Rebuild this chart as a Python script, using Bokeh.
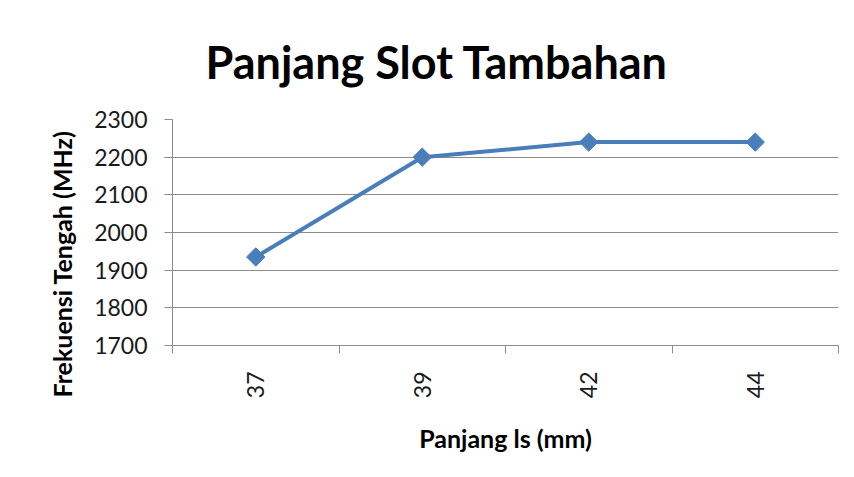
import math
from bokeh.plotting import figure
from bokeh.models import FixedTicker, Range1d, Title
from bokeh.embed import file_html
from bokeh.resources import INLINE

# data
categories = ["37", "39", "42", "44"]
frekuensi = [1935, 2200, 2240, 2240]
y_ticks = [1700, 1800, 1900, 2000, 2100, 2200, 2300]

x_pos = [i + 0.5 for i in range(len(categories))]
FONT = "Lato"
GRID = "#8c8c8c"
BLUE = "#4A7EBB"
W, H = 846, 469

p = figure(width=W, height=H, output_backend="svg", toolbar_location=None,
           x_range=Range1d(0, len(categories)), y_range=Range1d(y_ticks[0], y_ticks[-1]),
           min_border_left=172, min_border_right=8, min_border_top=119, min_border_bottom=124)
p.outline_line_color = None
p.background_fill_color = "white"
p.border_fill_color = "white"

p.add_layout(Title(text="Panjang Slot Tambahan", text_font=FONT, text_font_size="45px",
                   text_font_style="bold", text_color="black", align="left",
                   offset=33, standoff=61), "above")

# y axis title (placed as a side title so it can be shifted like the original)
p.add_layout(Title(text="Frekuensi Tengah (MHz)", text_font=FONT, text_font_size="25px",
                   text_font_style="bold", text_color="black", align="left",
                   offset=-52, standoff=29), "left")

# x axis
xax = p.xaxis[0]
xax.ticker = FixedTicker(ticks=x_pos, minor_ticks=list(range(len(categories) + 1)))
xax.major_label_overrides = {x: c for x, c in zip(x_pos, categories)}
xax.major_label_orientation = math.pi / 2
xax.major_tick_line_color = None
xax.minor_tick_line_color = GRID
xax.minor_tick_out = 8
xax.minor_tick_in = 0
xax.axis_line_color = GRID
xax.major_label_text_font = FONT
xax.major_label_text_font_size = "23px"
xax.major_label_text_color = "#1a1a1a"
xax.major_label_standoff = 18
xax.axis_label = "Panjang ls (mm)"
xax.axis_label_text_font = FONT
xax.axis_label_text_font_size = "25px"
xax.axis_label_text_font_style = "bold"
xax.axis_label_text_color = "black"
xax.axis_label_standoff = 22

# y axis
yax = p.yaxis[0]
yax.ticker = FixedTicker(ticks=y_ticks)
yax.major_tick_line_color = GRID
yax.major_tick_out = 8
yax.major_tick_in = 0
yax.minor_tick_line_color = None
yax.axis_line_color = GRID
yax.major_label_text_font = FONT
yax.major_label_text_font_size = "23px"
yax.major_label_text_color = "#1a1a1a"
yax.major_label_standoff = 17

p.xgrid.grid_line_color = None
p.ygrid.ticker = FixedTicker(ticks=y_ticks)
p.ygrid.grid_line_color = GRID
p.ygrid.grid_line_width = 1

p.line(x_pos, frekuensi, line_color=BLUE, line_width=4)
p.scatter(x_pos, frekuensi, marker="square", size=13, angle=math.pi / 4,
          fill_color=BLUE, line_color=BLUE)

open("out.html", "w").write(file_html(p, INLINE))
